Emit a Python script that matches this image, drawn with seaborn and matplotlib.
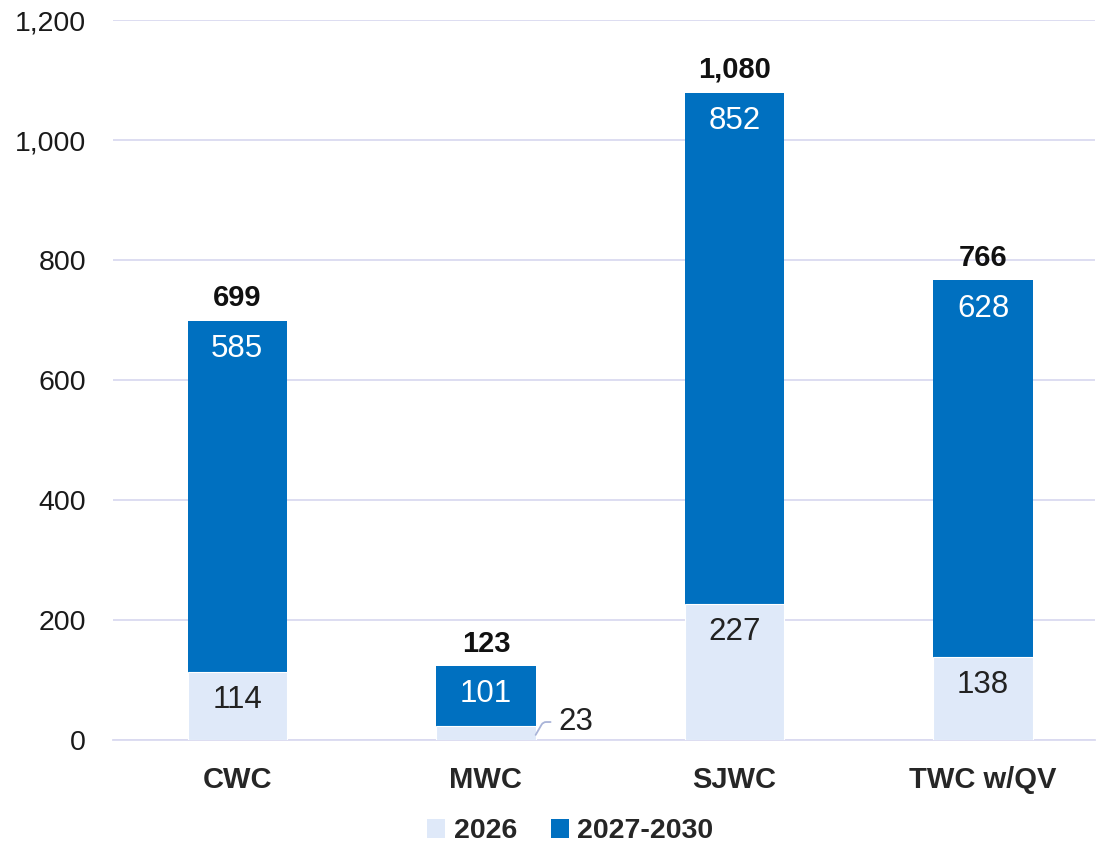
import matplotlib
matplotlib.use("Agg")
import matplotlib.pyplot as plt
import seaborn as sns
import pandas as pd
import numpy as np
from matplotlib.ticker import FuncFormatter
from matplotlib.patches import Patch

categories = ["CWC", "MWC", "SJWC", "TWC w/QV"]
v2026 = [114, 23, 227, 138]
v2027_2030 = [585, 101, 852, 628]
totals = [699, 123, 1080, 766]
series_names = ["2026", "2027-2030"]

c_light = "#DFE9F9"
c_dark = "#0070C0"

sns.set_theme(style="white")
plt.rcParams["font.family"] = ["Liberation Sans", "DejaVu Sans"]

fig = plt.figure(figsize=(11.01, 8.44), dpi=100)
ax = fig.add_axes([0.1026, 0.1232, 0.892, 0.853])

df = pd.DataFrame({"cat": categories, "a": v2026, "b": v2027_2030})
df["tot"] = df["a"] + df["b"]

sns.barplot(data=df, x="cat", y="tot", color=c_dark, width=0.40, ax=ax,
            saturation=1, edgecolor="none", zorder=3)
sns.barplot(data=df, x="cat", y="a", color=c_light, width=0.40, ax=ax,
            saturation=1, edgecolor="white", linewidth=0.8, zorder=4)

ax.set_ylim(0, 1200)
ax.set_xlim(-0.5, 3.45)
ax.set_yticks(np.arange(0, 1201, 200))
ax.yaxis.set_major_formatter(FuncFormatter(lambda v, p: f"{int(v):,}"))
ax.grid(axis="y", color="#DADAF0", linewidth=1.3, zorder=0)
ax.set_axisbelow(True)
for s in ["top", "right", "left"]:
    ax.spines[s].set_visible(False)
ax.spines["bottom"].set_color("#DADAF0")
ax.spines["bottom"].set_linewidth(1.3)
ax.tick_params(axis="y", length=0, labelsize=20.5, pad=19.5, labelcolor="#1a1a1a")
ax.tick_params(axis="x", length=0, labelsize=21, pad=19)
for t in ax.get_xticklabels():
    t.set_fontweight("bold")
ax.set_xlabel("")
ax.set_ylabel("")

for i, (a, b, t) in enumerate(zip(v2026, v2027_2030, totals)):
    ax.text(i, t + 14, f"{t:,}", ha="center", va="bottom", fontsize=21,
            fontweight="bold", color="#111111", zorder=6)
    if a >= 50:
        ax.text(i, a - 47, f"{a}", ha="center", va="center", fontsize=22.5,
                color="#222222", zorder=6)
    else:
        ax.annotate(f"{a}", xy=(i + 0.20, a / 2 - 3), xytext=(i + 0.29, 30),
                    ha="left", va="center", fontsize=22.5, color="#222222",
                    arrowprops=dict(arrowstyle="-", color="#A9B4D8", lw=1.3,
                                    shrinkA=3, shrinkB=0,
                                    connectionstyle="angle,angleA=0,angleB=60,rad=3"),
                    zorder=6)
    ax.text(i, a + b - 48, f"{b}", ha="center", va="center", fontsize=22.5,
            color="white", zorder=6)

handles = [Patch(facecolor=c_light, edgecolor="none"), Patch(facecolor=c_dark, edgecolor="none")]
leg = fig.legend(handles, series_names, loc="center", bbox_to_anchor=(0.518, 0.015),
                 ncol=2, frameon=False, handlelength=0.62, handleheight=0.62,
                 handletextpad=0.3, columnspacing=1.2,
                 prop={"weight": "bold", "size": 20.5, "family": "Liberation Sans"})

fig.savefig("out.png", dpi=100)
